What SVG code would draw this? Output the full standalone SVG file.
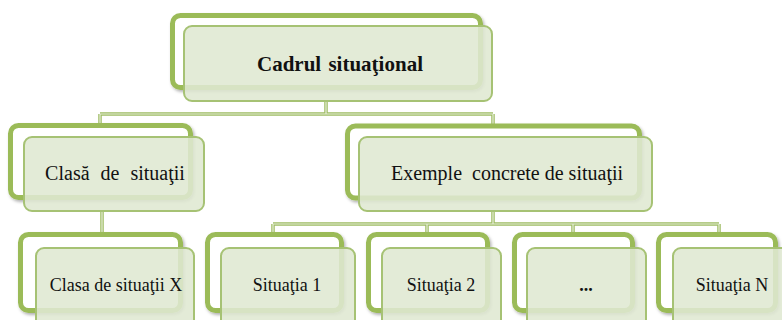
<svg xmlns="http://www.w3.org/2000/svg" width="782" height="320" viewBox="0 0 782 320">
<defs>
<filter id="sh" x="-10%" y="-10%" width="125%" height="130%">
<feDropShadow dx="1.5" dy="2" stdDeviation="1.5" flood-color="#000" flood-opacity="0.3"/>
</filter>
<style>
.back{fill:#ffffff;stroke:#9bbb59;stroke-width:5;filter:url(#sh)}
.front{fill:#dfe8d1;fill-opacity:0.88;stroke:#a6c274;stroke-width:2}
.t{font-family:"Liberation Serif","Times New Roman",serif;font-size:18px;fill:#111;text-anchor:middle}
.tb{font-weight:bold;font-size:21px}
.tm{font-size:20px}
.co{fill:none;stroke:#9fbc63;stroke-width:3.5}
.ci{fill:none;stroke:#e6eed9;stroke-width:1.2}
</style>
</defs>
<rect width="782" height="320" fill="#ffffff"/>
<g id="connectors">
<path class="co" d="M326 102V114M100 114H493M100 114V125M493 114V125M102 212V233M493 212V224M273 224H719M273 224V233M427 224V233M573 224V233M719 224V233"/>
<path class="ci" d="M326 102V114M100 114H493M100 114V125M493 114V125M102 212V233M493 212V224M273 224H719M273 224V233M427 224V233M573 224V233M719 224V233"/>
</g>
<g id="cadrul">
<rect class="back" x="172.5" y="15.5" width="308" height="72" rx="8"/>
<rect class="front" x="184" y="26" width="308" height="75" rx="8"/>
<text class="t tb" x="340" y="71" word-spacing="2">Cadrul situaţional</text>
</g>
<g id="clasa">
<rect class="back" x="10.5" y="125.5" width="180" height="72" rx="8"/>
<rect class="front" x="24" y="137" width="180" height="74" rx="8"/>
<text class="t tm" x="115" y="180" word-spacing="6" xml:space="preserve">Clasă de situaţii</text>
</g>
<g id="exemple">
<rect class="back" x="347.5" y="126" width="292" height="72" rx="8"/>
<rect class="front" x="359" y="137" width="293" height="74" rx="8"/>
<text class="t tm" x="507" y="180" xml:space="preserve">Exemple  concrete de situaţii</text>
</g>
<g id="clasaX">
<rect class="back" x="20.5" y="234.5" width="160" height="76" rx="8"/>
<rect class="front" x="36" y="248" width="158" height="82" rx="8"/>
<text class="t" x="116" y="291">Clasa de situaţii X</text>
</g>
<g id="sit1">
<rect class="back" x="207.5" y="234.5" width="134" height="76" rx="8"/>
<rect class="front" x="221" y="248" width="134" height="82" rx="8"/>
<text class="t" x="287" y="291">Situaţia 1</text>
</g>
<g id="sit2">
<rect class="back" x="368.5" y="234.5" width="119" height="76" rx="8"/>
<rect class="front" x="382" y="248" width="119" height="82" rx="8"/>
<text class="t" x="441" y="291">Situaţia 2</text>
</g>
<g id="dots">
<rect class="back" x="514.5" y="234.5" width="118" height="76" rx="8"/>
<rect class="front" x="527" y="248" width="119" height="82" rx="8"/>
<text class="t" x="586" y="291" font-weight="bold">...</text>
</g>
<g id="sitN">
<rect class="back" x="658.5" y="234.5" width="117" height="76" rx="8"/>
<rect class="front" x="673" y="248" width="120" height="82" rx="8"/>
<text class="t" x="732" y="291">Situaţia N</text>
</g>
</svg>
